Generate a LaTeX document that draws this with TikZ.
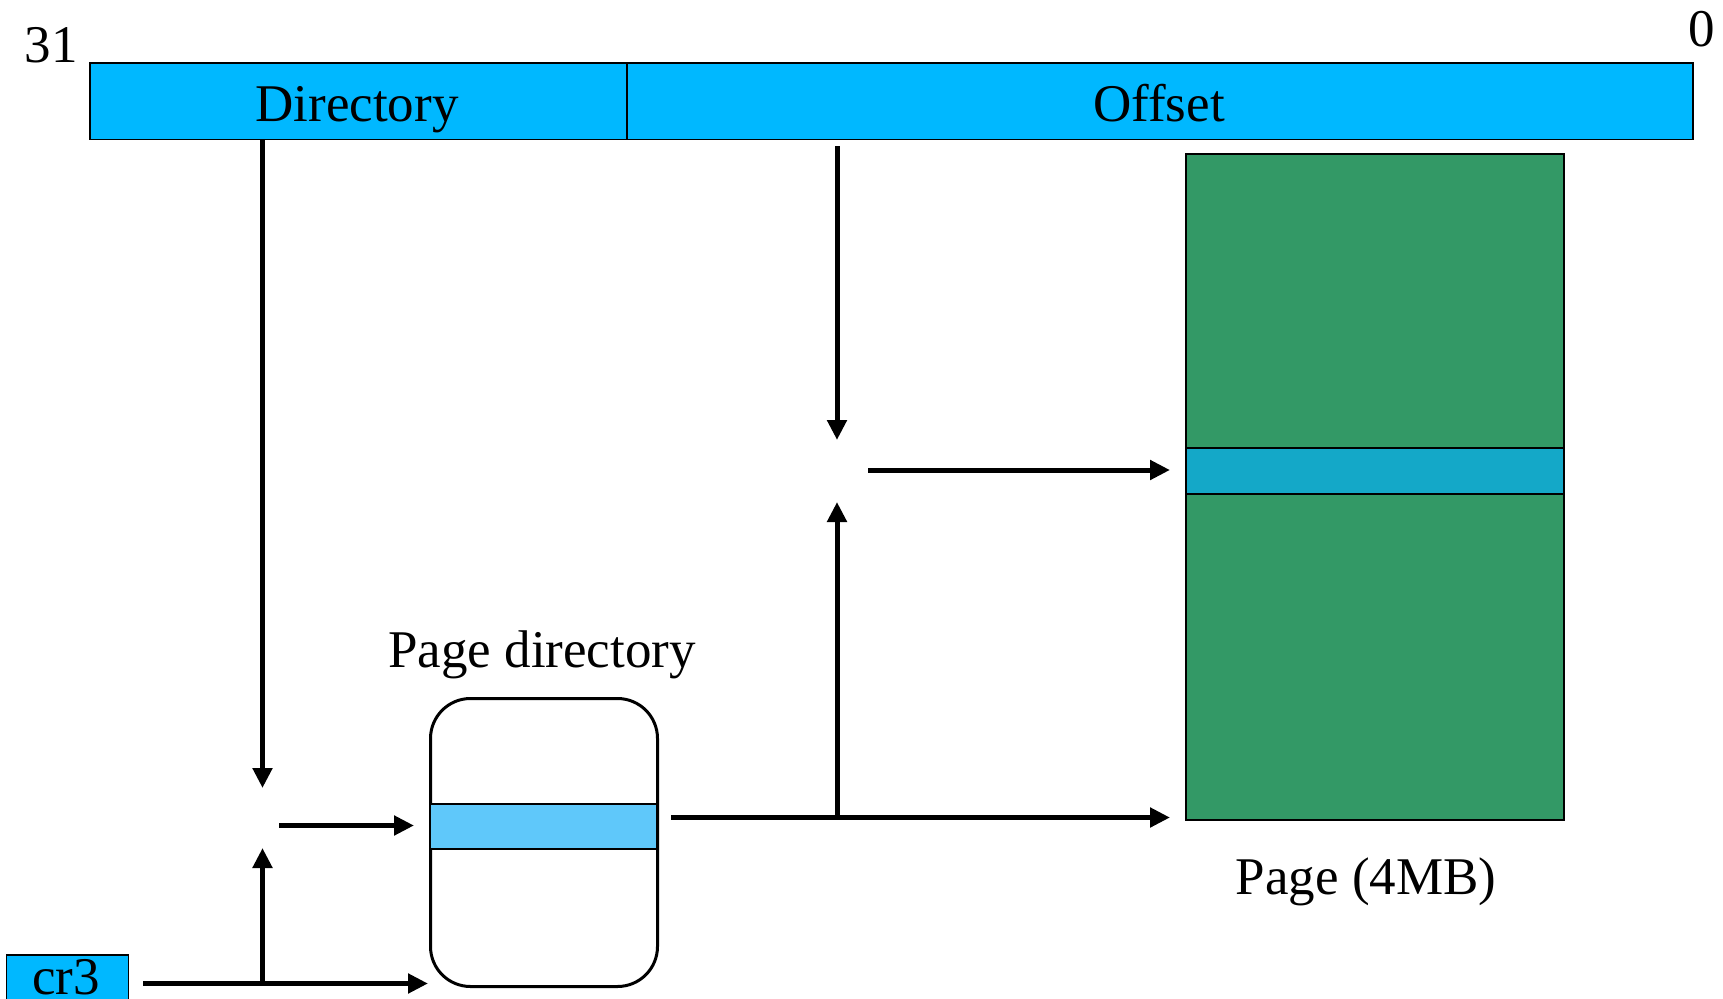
\documentclass[tikz,border=0pt]{standalone}
\usepackage{fontspec}
\setmainfont{Liberation Serif}
\usetikzlibrary{arrows.meta}
\definecolor{barblue}{RGB}{0,184,255}
\definecolor{pagegreen}{RGB}{51,153,102}
\definecolor{pdstripe}{RGB}{95,200,250}
\definecolor{pgstripe}{RGB}{20,168,200}
\begin{document}
\begin{tikzpicture}[x=1pt,y=-1pt,
  txt/.style={font=\fontsize{53}{60}\selectfont, inner sep=0pt, anchor=base},
  fld/.style={draw=black, line width=1.5pt, fill=barblue, inner sep=0pt, anchor=north west},
  conn/.style={line width=5pt, -{Triangle[length=20pt,width=19pt]}},
  plain/.style={line width=5pt}
]
\useasboundingbox (0,0) rectangle (1723,998);
\clip (0,0) rectangle (1723,998);
% top register fields
\node[fld, minimum width=537pt, minimum height=76pt] (dir) at (89,62.5) {};
\node[fld, minimum width=1066pt, minimum height=76pt] (off) at (626,62.5) {};
\node[txt] (dirtxt) at (357,121) {Directory};
\node[txt] (offtxt) at (1159,121) {Offset};
\node[txt] (b31) at (51,63) {31};
\node[txt] (b0) at (1702,47) {0};
% cr3
\node[fld, minimum width=122pt, minimum height=60pt] (cr3) at (5.5,954) {};
\node[txt] (cr3txt) at (66,994) {cr3};
% page directory
\node[draw=black, line width=3pt, rounded corners=40pt, fill=white, minimum width=227pt, minimum height=288pt, anchor=north west, inner sep=0pt] (pd) at (429,697) {};
\node[draw=black, line width=1.5pt, fill=pdstripe, minimum width=227pt, minimum height=45pt, anchor=north west, inner sep=0pt] (pdrow) at (429,803) {};
\node[txt] (pdlbl) at (542,667) {Page directory};
% page
\node[draw=black, line width=2pt, fill=pagegreen, minimum width=378pt, minimum height=666pt, anchor=north west, inner sep=0pt] (page) at (1185,153) {};
\node[draw=black, line width=2pt, fill=pgstripe, minimum width=378pt, minimum height=46pt, anchor=north west, inner sep=0pt] (pgrow) at (1185,447) {};
\node[txt] (pglbl) at (1366,894) {Page (4MB)};
% junction coordinates
\coordinate (d1) at (262.5,139);
\coordinate (d2) at (262.5,788);
\coordinate (j1a) at (279,825.5);
\coordinate (j1b) at (414,825.5);
\coordinate (c1) at (143,983.5);
\coordinate (c2) at (428,983.5);
\coordinate (cup) at (262.5,983.5);
\coordinate (cupend) at (262.5,848);
\coordinate (p1) at (671,817.5);
\coordinate (p2) at (1170,817.5);
\coordinate (pup) at (837,817.5);
\coordinate (pupend) at (837,502);
\coordinate (o1) at (837,146);
\coordinate (o2) at (837,440);
\coordinate (q1) at (868,470);
\coordinate (q2) at (1170,470);
% connectors
\draw[conn] (d1) -- (d2);
\draw[conn] (j1a) -- (j1b);
\draw[conn] (c1) -- (c2);
\draw[conn] (cup) -- (cupend);
\draw[conn] (p1) -- (p2);
\draw[conn] (pup) -- (pupend);
\draw[conn] (o1) -- (o2);
\draw[conn] (q1) -- (q2);
\end{tikzpicture}
\end{document}
